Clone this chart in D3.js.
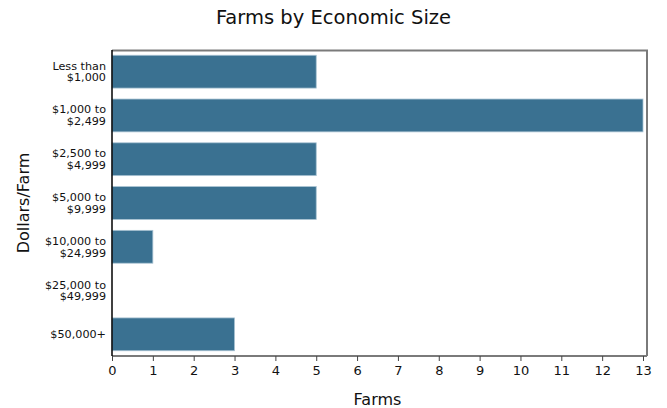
<!DOCTYPE html>
<html>
<head>
<meta charset="utf-8">
<script src="https://cdn.jsdelivr.net/npm/d3@7"></script>
<style>
  body { margin: 0; background: #fff; }
  text { font-family: "DejaVu Sans", sans-serif; fill: #111; }
</style>
</head>
<body>
<svg id="chart"></svg>
<script>
const categories = [
  ["Less than", "$1,000"],
  ["$1,000 to", "$2,499"],
  ["$2,500 to", "$4,999"],
  ["$5,000 to", "$9,999"],
  ["$10,000 to", "$24,999"],
  ["$25,000 to", "$49,999"],
  ["$50,000+"],
];
const farms = [5, 13, 5, 5, 1, 0, 3];
const xTicks = d3.range(0, 14);

const dims = {
  width: 667,
  height: 408,
  margin: { top: 50, left: 112, right: 24, bottom: 52 },
};
dims.innerWidth = dims.width - dims.margin.left - dims.margin.right; // 531
dims.innerHeight = dims.height - dims.margin.top - dims.margin.bottom; // 306

const svg = d3.select("#chart")
  .attr("width", dims.width)
  .attr("height", dims.height);

const base = svg.append("g")
  .attr("transform", `translate(${dims.margin.left},${dims.margin.top})`);

const keys = categories.map((c) => c.join(" "));

const xScale = d3.scaleLinear().domain([0, 13]).range([0, dims.innerWidth]);
const yScale = d3.scaleBand().domain(keys).range([0, dims.innerHeight]).paddingInner(0.25).paddingOuter(0.12);

// frame (top + right gray)
base.append("path")
  .attr("d", `M0,0.5H${dims.innerWidth + 4}V${dims.innerHeight}`)
  .attr("fill", "none")
  .attr("stroke", "#7a7a7a")
  .attr("stroke-width", 2);

// bars
base.append("g")
  .selectAll("rect")
  .data(farms)
  .join("rect")
  .attr("x", 0)
  .attr("y", (d, i) => yScale(keys[i]))
  .attr("width", (d) => xScale(d))
  .attr("height", yScale.bandwidth())
  .attr("fill", "#3a7191")
  .attr("stroke", "#a9c3d3")
  .attr("stroke-width", (d) => (d > 0 ? 0.8 : 0));

// x axis
base.append("g")
  .attr("transform", `translate(0,${dims.innerHeight})`)
  .call(d3.axisBottom(xScale).tickValues(xTicks).tickSize(5).tickPadding(5).tickSizeOuter(0))
  .call((g) => {
    g.select("path.domain").attr("stroke", "#7a7a7a").attr("stroke-width", 2)
      .attr("d", `M0,0H${dims.innerWidth + 4}`);
    g.selectAll(".tick line").attr("stroke", "#444");
    g.selectAll(".tick text").attr("font-size", 13).attr("fill", "#111")
      .attr("font-family", "DejaVu Sans, sans-serif");
  });

// y axis
base.append("g")
  .call(d3.axisLeft(yScale).tickSize(0).tickPadding(6))
  .call((g) => {
    g.select("path.domain").attr("stroke", "#000").attr("stroke-width", 1.5)
      .attr("d", `M0,0V${dims.innerHeight}`);
    g.selectAll(".tick text")
      .attr("font-size", 11.2)
      .attr("fill", "#111")
      .attr("font-family", "DejaVu Sans, sans-serif")
      .each(function (d, i) {
        const self = d3.select(this);
        const lines = categories[i];
        self.text("");
        self.attr("dy", null).attr("y", 0);
        lines.forEach((ln, j) => {
          self.append("tspan")
            .attr("x", -6)
            .attr("dy", j === 0 ? `${(-(lines.length - 1) / 2) * 1.05 + 0.35}em` : "1.05em")
            .text(ln);
        });
      });
  });

// title
svg.append("text")
  .attr("x", dims.width / 2)
  .attr("y", 24)
  .attr("text-anchor", "middle")
  .attr("font-size", 19.5)
  .text("Farms by Economic Size");

// axis labels
svg.append("text")
  .attr("x", dims.margin.left + dims.innerWidth / 2)
  .attr("y", 405)
  .attr("text-anchor", "middle")
  .attr("font-size", 16)
  .attr("fill", "#000")
  .text("Farms");

svg.append("text")
  .attr("transform", `translate(29,${dims.margin.top + dims.innerHeight / 2}) rotate(-90)`)
  .attr("text-anchor", "middle")
  .attr("font-size", 16)
  .attr("fill", "#000")
  .text("Dollars/Farm");
</script>
</body>
</html>
